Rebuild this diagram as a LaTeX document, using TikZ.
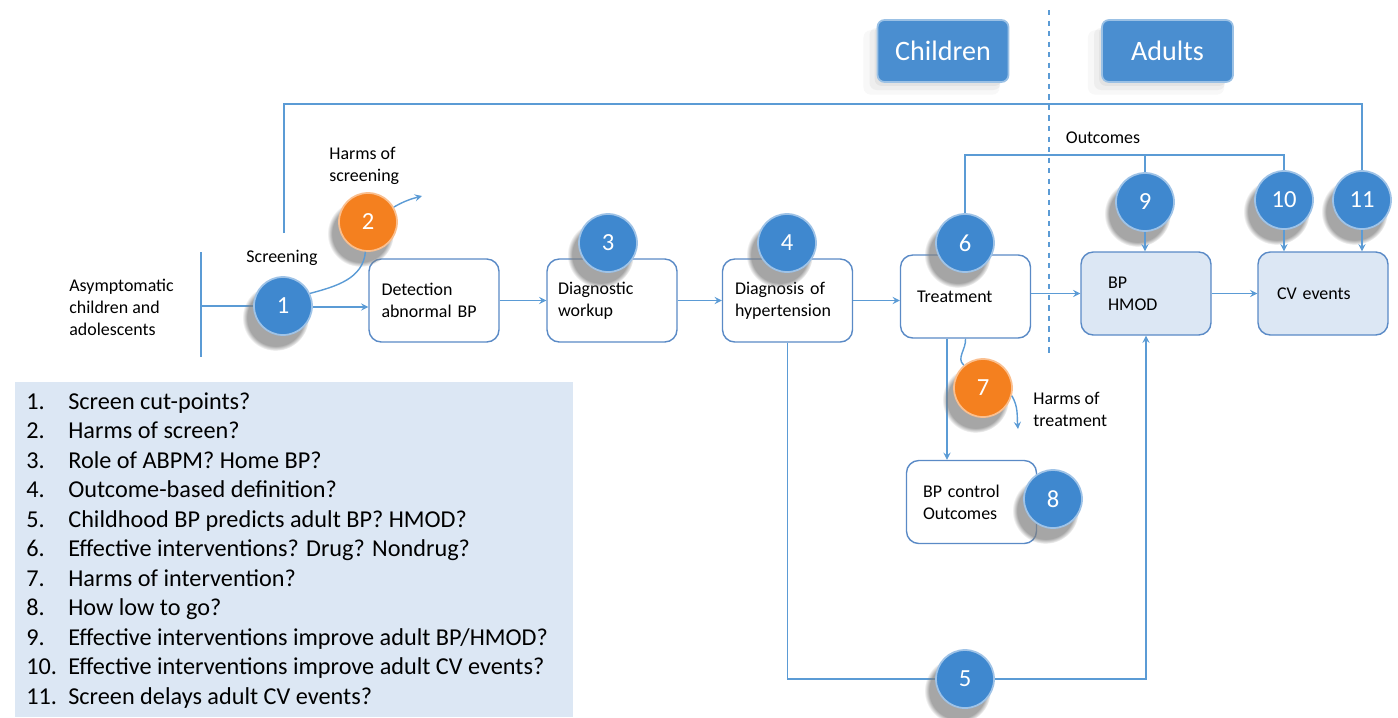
\documentclass[tikz,border=0pt]{standalone}
\usepackage{fontspec}
\setmainfont{Carlito}
\usetikzlibrary{shadows}
\definecolor{lineblue}{HTML}{5B9BD5}
\definecolor{edgeblue}{HTML}{5A8AC6}
\definecolor{ballblue}{HTML}{3F88CF}
\definecolor{ballorange}{HTML}{F4801F}
\definecolor{paleblue}{HTML}{DCE7F4}
\definecolor{headblue}{HTML}{4A8ED0}
\begin{document}
\begin{tikzpicture}[
    every node/.style={font=\fontsize{10.2}{12.5}\selectfont},
    block/.style={rectangle, draw=edgeblue, line width=0.8pt, fill=white, rounded corners=7pt, minimum width=2.6cm, minimum height=1.66cm, text width=2.1cm, align=left},
    outcome/.style={block, fill=paleblue},
    header/.style={rectangle, rounded corners=4pt, fill=headblue, draw=white!45!headblue, line width=1pt, text=white, minimum width=2.62cm, minimum height=1.24cm, font=\fontsize{16}{16}\selectfont,
        drop shadow={shadow xshift=-2.2mm, shadow yshift=-2.2mm, shadow scale=1.04, opacity=0.06},
        drop shadow={shadow xshift=-1.6mm, shadow yshift=-1.6mm, opacity=0.08},
        drop shadow={shadow xshift=-1mm, shadow yshift=-1mm, shadow scale=0.97, opacity=0.1}},
    ball/.style={circle, fill=ballblue, draw=white!50!ballblue, line width=1pt, minimum size=1.16cm, inner sep=0pt, text=white, font=\fontsize{14}{14}\selectfont, circular drop shadow={shadow xshift=-1.3mm, shadow yshift=-2mm, shadow scale=1.15, opacity=0.7}},
    harmball/.style={ball, fill=ballorange, draw=white!50!ballorange},
    label/.style={align=left, inner sep=0pt},
    line/.style={draw=lineblue, line width=0.8pt},
    arrow/.style={->, >=stealth, draw=lineblue, line width=0.8pt}
]
    \useasboundingbox (0,0) rectangle (27.96,-14.34);

% -------------------------
% Question list
% -------------------------
    \fill[paleblue] (0.3,-7.64) rectangle (11.46,-14.34);
    \node[anchor=north west, inner sep=0pt, font=\fontsize{13.8}{16.8}\selectfont] (qlist) at (0.52,-7.76) {%
        \begin{tabular}{@{}p{0.84cm}@{}l@{}}
        1. & Screen cut-points?\\
        2. & Harms of screen?\\
        3. & Role of ABPM? Home BP?\\
        4. & Outcome-based definition?\\
        5. & Childhood BP predicts adult BP? HMOD?\\
        6. & Effective interventions? Drug? Nondrug?\\
        7. & Harms of intervention?\\
        8. & How low to go?\\
        9. & Effective interventions improve adult BP/HMOD?\\
        10. & Effective interventions improve adult CV events?\\
        11. & Screen delays adult CV events?
        \end{tabular}};

% -------------------------
% Headers & divider
% -------------------------
    \node[header] (children) at (18.86,-1.02) {Children};
    \node[header] (adults) at (23.35,-1.02) {Adults};
    \draw[line, dashed] (20.98,-0.2) -- (20.98,-7.1);

% -------------------------
% Boxes
% -------------------------
    \node[label, anchor=west] (pop) at (1.38,-6.14) {Asymptomatic\\children and\\adolescents};
    \coordinate (barT) at (4.02,-5.04);
    \coordinate (barB) at (4.02,-7.14);
    \coordinate (bar) at (4.02,-6.12);

    \node[block] (detect) at (8.68,-6.01) {Detection\\abnormal BP};
    \node[block, text width=2.16cm] (workup) at (12.24,-6.01) {Diagnostic\\workup};
    \node[block] (hyp) at (15.75,-6.01) {Diagnosis of\\hypertension};
    \node[block, text width=1.94cm] (treat) at (19.31,-5.93) {\raisebox{-5pt}{Treatment}};
    \node[outcome, text width=1.52cm] (bphmod) at (22.92,-5.87) {BP\\HMOD};
    \node[outcome, text width=1.84cm] (cv) at (26.46,-5.87) {\raisebox{-3pt}{CV events}};
    \node[block, text width=1.94cm] (bpctrl) at (19.43,-10.04) {BP control\\Outcomes};

% -------------------------
% Labels
% -------------------------
    \node (screening) at (5.64,-5.16) {Screening};
    \node[label, anchor=west] (harmscr) at (6.58,-3.32) {Harms of\\screening};
    \node[label, anchor=west] (harmtrt) at (20.66,-8.18) {Harms of\\treatment};
    \node (outcomes) at (22.06,-2.76) {Outcomes};

% -------------------------
% Connectors
% -------------------------
    \draw[line] (barT) -- (barB);
    \draw[line] (bar) -- (5.1,-6.12);
    \draw[arrow] (5.6,-6.14) -- (5.6,-6.14 -| detect.west);
    \draw[arrow] (detect.east) -- (workup.west);
    \draw[arrow] (workup.east) -- (hyp.west);
    \draw[arrow] (hyp.east) -- (hyp.east -| treat.west);
    \draw[arrow] (treat.east |- bphmod.west) -- (bphmod.west);
    \draw[arrow] (bphmod.east) -- (cv.west);

    % screening line over the top to 11
    \coordinate (scrTop) at (5.68,-4.66);
    \coordinate (topR) at (27.24,-2.08);
    \draw[line] (scrTop) |- (topR) -- (27.24,-3.6);

    % outcomes line from 6 to 9 and 10
    \coordinate (out9) at (22.9,-3.1);
    \coordinate (out10) at (25.68,-3.1);
    \draw[line] (19.3,-4.5) |- (out10) -- (25.68,-3.6);
    \draw[line] (out9) -- (22.9,-3.6);

    % treatment to BP control
    \draw[arrow] ([xshift=-3.7mm]treat.south) -- ([xshift=-3.7mm]treat.south |- bpctrl.north);

    % 5: from diagnosis to adult BP/HMOD
    \coordinate (low) at (19.3,-13.58);
    \draw[line] (hyp.south) |- (low);
    \draw[arrow] (low) -| (bphmod.south);

% -------------------------
% Numbered balls
% -------------------------
    \node[ball] (q1) at (5.66,-6.12) {1};
    \node[harmball] (q2) at (7.36,-4.44) {2};
    \node[ball] (q3) at (12.16,-4.86) {3};
    \node[ball] (q4) at (15.74,-4.86) {4};
    \node[ball] (q5) at (19.3,-13.58) {5};
    \node[ball] (q6) at (19.3,-4.86) {6};
    \node[harmball] (q7) at (19.66,-7.76) {7};
    \node[ball] (q8) at (21.06,-9.98) {8};
    \node[ball] (q9) at (22.9,-4.04) {9};
    \node[ball] (q10) at (25.68,-4.0) {10};
    \node[ball] (q11) at (27.24,-4.0) {11};

    % harms
    \coordinate (harm1) at (8.44,-3.92);
    \coordinate (harm7) at (20.36,-8.58);
    \draw[line] (q1.25) to[out=15, in=-95] (q2.265);
    \draw[arrow] (q2.30) to[out=30, in=195] (harm1);
    \draw[line] (treat.south) to[out=-85, in=140] (q7.130);
    \draw[arrow] (q7.-15) to[out=-60, in=95] (harm7);

    % adult arrows
    \draw[arrow] (q9.south) -- (q9.south |- bphmod.north);
    \draw[arrow] (q10.south) -- (q10.south |- cv.north);
    \draw[arrow] (q11.south) -- (q11.south |- cv.north);
\end{tikzpicture}
\end{document}
